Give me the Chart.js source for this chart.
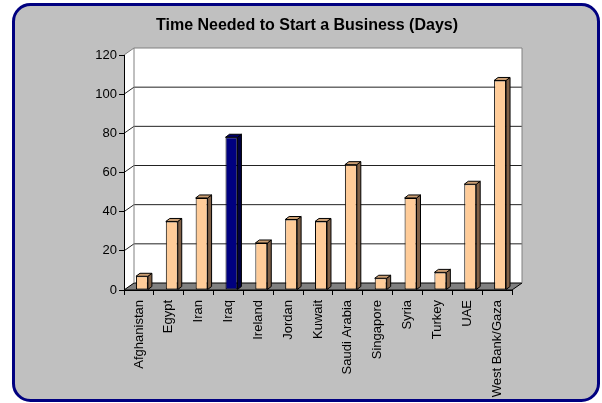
<!DOCTYPE html>
<html>
<head>
<meta charset="utf-8">
<script src="https://cdn.jsdelivr.net/npm/chart.js@4/dist/chart.umd.min.js"></script>
<style>
  html, body { margin: 0; padding: 0; background: #ffffff; }
  #c { display: block; }
</style>
</head>
<body>
<canvas id="c" width="602" height="403"></canvas>
<script>
// Days required to register a new business, by economy
const categories = ['Afghanistan', 'Egypt', 'Iran', 'Iraq', 'Ireland', 'Jordan', 'Kuwait',
  'Saudi Arabia', 'Singapore', 'Syria', 'Turkey', 'UAE', 'West Bank/Gaza'];
const days = [7, 35, 47, 78, 24, 36, 35, 64, 6, 47, 9, 54, 107];
const highlighted = ['Iraq'];
const axisMin = 0;
const axisMax = 120;
const axisStep = 20;

const FONT = '"Liberation Sans", Arial, sans-serif';
const DEPTH_X = 10, DEPTH_Y = 7;      // offset of the back wall
const BAR_DX = 4, BAR_DY = 3;         // depth of each column
const BAR_SHIFT = 3;                  // columns sit a little into the depth

const frontColor = { normal: '#FFCC99', hi: '#000080' };
const sideColor  = { normal: '#806046', hi: '#000040' };
const topColor   = { normal: '#CC9F73', hi: '#000066' };
const isHi = i => highlighted.includes(categories[i]);

function roundRect(ctx, x, y, w, h, r) {
  ctx.beginPath();
  ctx.moveTo(x + r, y);
  ctx.lineTo(x + w - r, y);
  ctx.arcTo(x + w, y, x + w, y + r, r);
  ctx.lineTo(x + w, y + h - r);
  ctx.arcTo(x + w, y + h, x + w - r, y + h, r);
  ctx.lineTo(x + r, y + h);
  ctx.arcTo(x, y + h, x, y + h - r, r);
  ctx.lineTo(x, y + r);
  ctx.arcTo(x, y, x + r, y, r);
  ctx.closePath();
}

// Frame, walls and floor of the 3-D plot box
const boxPlugin = {
  id: 'box3d',
  beforeDraw(chart) {
    const ctx = chart.ctx;
    const area = chart.chartArea;
    const left = area.left, right = area.right, t = area.top, bottom = area.bottom;
    const ys = chart.scales.y;
    ctx.save();
    ctx.fillStyle = '#ffffff';
    ctx.fillRect(0, 0, chart.width, chart.height);
    roundRect(ctx, 13.5, 4.5, 585, 396, 17);
    ctx.fillStyle = '#C0C0C0';
    ctx.fill();
    ctx.lineWidth = 3;
    ctx.strokeStyle = '#000080';
    ctx.stroke();

    // back wall
    ctx.fillStyle = '#ffffff';
    ctx.fillRect(left + DEPTH_X, t - DEPTH_Y, right - left, bottom - t);
    // side wall
    ctx.beginPath();
    ctx.moveTo(left, t);
    ctx.lineTo(left + DEPTH_X, t - DEPTH_Y);
    ctx.lineTo(left + DEPTH_X, bottom - DEPTH_Y);
    ctx.lineTo(left, bottom);
    ctx.closePath();
    ctx.fill();
    // floor
    ctx.beginPath();
    ctx.moveTo(left, bottom);
    ctx.lineTo(left + DEPTH_X, bottom - DEPTH_Y);
    ctx.lineTo(right + DEPTH_X, bottom - DEPTH_Y);
    ctx.lineTo(right, bottom);
    ctx.closePath();
    ctx.fillStyle = '#808080';
    ctx.fill();
    ctx.lineWidth = 1;
    ctx.strokeStyle = '#000000';
    ctx.stroke();

    // grid lines on the back wall, joined to the axis across the side wall
    ctx.strokeStyle = '#222222';
    for (let v = axisMin + axisStep; v < axisMax; v += axisStep) {
      const py = ys.getPixelForValue(v);
      ctx.beginPath();
      ctx.moveTo(left, py);
      ctx.lineTo(left + DEPTH_X, py - DEPTH_Y);
      ctx.lineTo(right + DEPTH_X, py - DEPTH_Y);
      ctx.stroke();
    }
    // wall outline
    ctx.strokeStyle = '#808080';
    ctx.beginPath();
    ctx.moveTo(left, t);
    ctx.lineTo(left + DEPTH_X, t - DEPTH_Y);
    ctx.lineTo(right + DEPTH_X, t - DEPTH_Y);
    ctx.lineTo(right + DEPTH_X, bottom - DEPTH_Y);
    ctx.moveTo(left + DEPTH_X, t - DEPTH_Y);
    ctx.lineTo(left + DEPTH_X, bottom - DEPTH_Y);
    ctx.stroke();
    ctx.restore();
  },
  beforeDatasetsDraw(chart) {
    chart.ctx.save();
    chart.ctx.translate(BAR_SHIFT, 0);
  },
  afterDatasetsDraw(chart) {
    const ctx = chart.ctx;
    const meta = chart.getDatasetMeta(0);
    meta.data.forEach((bar, i) => {
      const p = bar.getProps(['x', 'y', 'base', 'width'], true);
      const l = p.x - p.width / 2, r = p.x + p.width / 2;
      const key = isHi(i) ? 'hi' : 'normal';
      ctx.lineWidth = 1;
      ctx.strokeStyle = '#000000';
      // right-hand face
      ctx.beginPath();
      ctx.moveTo(r, p.y);
      ctx.lineTo(r + BAR_DX, p.y - BAR_DY);
      ctx.lineTo(r + BAR_DX, p.base - BAR_DY);
      ctx.lineTo(r, p.base);
      ctx.closePath();
      ctx.fillStyle = sideColor[key];
      ctx.fill();
      ctx.stroke();
      // top face
      ctx.beginPath();
      ctx.moveTo(l, p.y);
      ctx.lineTo(l + BAR_DX, p.y - BAR_DY);
      ctx.lineTo(r + BAR_DX, p.y - BAR_DY);
      ctx.lineTo(r, p.y);
      ctx.closePath();
      ctx.fillStyle = topColor[key];
      ctx.fill();
      ctx.stroke();
    });
    ctx.restore();
  }
};

new Chart(document.getElementById('c'), {
  type: 'bar',
  data: {
    labels: categories,
    datasets: [{
      data: days,
      backgroundColor: categories.map((c, i) => isHi(i) ? frontColor.hi : frontColor.normal),
      borderColor: '#000000',
      borderWidth: 1,
      borderSkipped: false,
      barPercentage: 0.4,
      categoryPercentage: 1.0
    }]
  },
  options: {
    responsive: false,
    animation: false,
    devicePixelRatio: 1,
    layout: { padding: { left: 12, right: 0, top: 10, bottom: 0 } },
    plugins: {
      legend: { display: false },
      tooltip: { enabled: false },
      title: {
        display: true,
        text: 'Time Needed to Start a Business (Days)',
        color: '#000000',
        font: { family: FONT, size: 16, weight: 'bold' },
        padding: { top: 6.2, bottom: 19.6 }
      }
    },
    scales: {
      x: {
        afterFit(s) { s.height = 113; },
        grid: { display: true, drawOnChartArea: false, drawTicks: true, tickLength: 5, color: '#000000', offset: true },
        border: { display: true, color: '#000000', width: 1 },
        ticks: {
          autoSkip: false, minRotation: 90, maxRotation: 90, padding: 5,
          color: '#000000', font: { family: FONT, size: 13 }
        }
      },
      y: {
        min: axisMin, max: axisMax,
        afterFit(s) { s.width = 112; },
        grid: { display: true, drawOnChartArea: false, drawTicks: true, tickLength: 5, color: '#000000' },
        border: { display: true, color: '#000000', width: 1 },
        ticks: {
          stepSize: axisStep, padding: 2,
          color: '#000000', font: { family: FONT, size: 13 }
        }
      },
      // empty margin to the right of the plot box
      margin: {
        type: 'linear', position: 'right', min: 0, max: 1,
        afterFit(s) { s.width = 90; },
        grid: { display: false }, border: { display: false }, ticks: { display: false }
      }
    }
  },
  plugins: [boxPlugin]
});
</script>
</body>
</html>
